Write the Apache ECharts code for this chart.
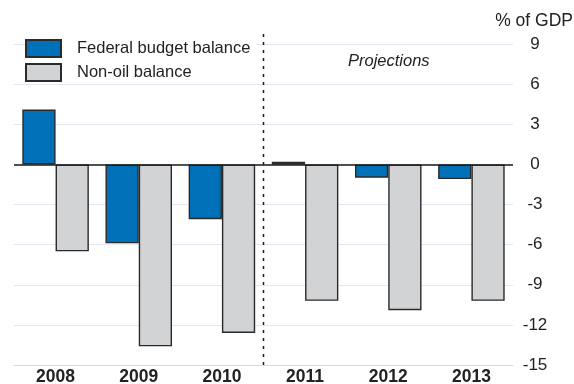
<!DOCTYPE html>
<html>
<head>
<meta charset="utf-8">
<script src="https://cdn.jsdelivr.net/npm/echarts@6/dist/echarts.min.js"></script>
<style>
  html, body { margin: 0; padding: 0; background: #fff; }
  #chart { width: 574px; height: 384px; }
</style>
</head>
<body>
<div id="chart"></div>
<script>
const years = ['2008', '2009', '2010', '2011', '2012', '2013']
const federalBalance = [4.1, -5.9, -4.1, 0.2, -1.0, -1.1]
const nonOilBalance = [-6.5, -13.6, -12.6, -10.2, -10.9, -10.2]
// projections start after 2010 (position on a 0..6 scale)
const projectionSplit = [[3, -15], [3, 10]]

const font = '"Liberation Sans", Arial, sans-serif'
const chart = echarts.init(document.getElementById('chart'))

chart.setOption({
  animation: false,
  textStyle: { fontFamily: font },
  grid: { left: 14, right: 61, top: 44, bottom: 19, outerBoundsMode: 'none' },
  legend: {
    data: ['Federal budget balance', 'Non-oil balance'],
    icon: 'rect',
    orient: 'vertical',
    left: 25,
    top: 39,
    padding: [0, 6, 2, 0],
    itemWidth: 35,
    itemHeight: 17,
    itemGap: 5,
    backgroundColor: '#fff',
    textStyle: { fontSize: 16.5, color: '#222', fontFamily: font, padding: [0, 0, 0, 11] }
  },
  graphic: [
    {
      type: 'text', right: 1, top: 12,
      style: { text: '% of GDP', fontSize: 17.5, fill: '#222', fontFamily: font }
    },
    {
      type: 'text', left: 348, top: 53,
      style: { text: 'Projections', fontSize: 16.5, fontStyle: 'italic', fill: '#222', fontFamily: font }
    }
  ],
  xAxis: [
    {
      type: 'category',
      data: years,
      axisLine: { onZero: false, lineStyle: { color: '#d6d9e0' } },
      axisTick: { inside: true, length: 4, lineStyle: { color: '#444' } },
      axisLabel: { fontSize: 17.5, fontWeight: 'bold', color: '#222', margin: 3 }
    },
    { type: 'value', min: 0, max: 6, show: false }
  ],
  yAxis: {
    type: 'value',
    position: 'right',
    min: -15,
    max: 9,
    interval: 3,
    axisLine: { show: false },
    axisTick: { show: false },
    axisLabel: { fontSize: 17, color: '#222', align: 'center', margin: 22 },
    splitLine: { lineStyle: { color: '#e3e7f3', width: 1 } }
  },
  series: [
    {
      name: 'Federal budget balance',
      type: 'bar',
      data: federalBalance,
      barWidth: '40%',
      barGap: '0%',
      itemStyle: { color: '#0071b9', borderColor: '#2a2a2a', borderWidth: 1.4 },
      markLine: {
        silent: true,
        symbol: 'none',
        label: { show: false },
        lineStyle: { color: '#1a1a1a', width: 1.5, type: 'solid' },
        data: [{ yAxis: 0 }]
      }
    },
    {
      name: 'Non-oil balance',
      type: 'bar',
      data: nonOilBalance,
      barWidth: '40%',
      barGap: '0%',
      itemStyle: { color: '#d2d3d5', borderColor: '#2a2a2a', borderWidth: 1.4 }
    },
    {
      type: 'line',
      xAxisIndex: 1,
      data: projectionSplit,
      symbol: 'none',
      silent: true,
      clip: false,
      z: 5,
      lineStyle: { color: '#1a1a1a', width: 1.5, type: [3, 5] }
    }
  ]
})
</script>
</body>
</html>
